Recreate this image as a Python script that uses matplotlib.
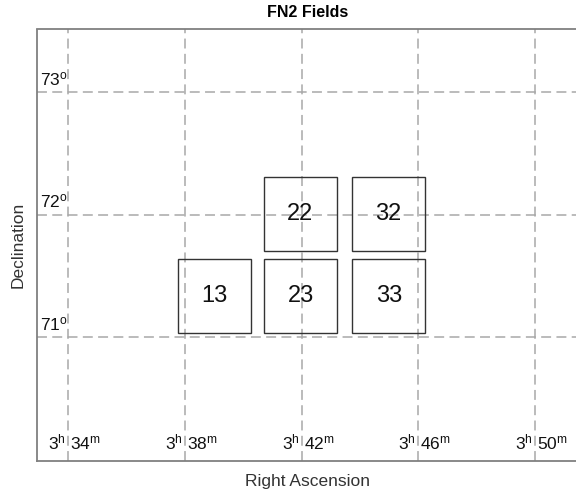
import matplotlib.pyplot as plt
from matplotlib.patches import Rectangle

plt.rcParams['font.family'] = ['Liberation Sans', 'DejaVu Sans']
plt.rcParams['mathtext.fontset'] = 'custom'
plt.rcParams['mathtext.rm'] = 'Liberation Sans'
plt.rcParams['mathtext.it'] = 'Liberation Sans'

# RA in minutes past 3h, Dec in degrees
ra_ticks = [34, 38, 42, 46, 50]
dec_ticks = [71, 72, 73]
field_names = ['13', '22', '32', '23', '33']
field_ra = [39.02, 41.96, 44.97, 41.98, 44.99]
field_dec = [71.335, 72.008, 72.008, 71.335, 71.335]
field_w = 2.5    # minutes of RA
field_h = 0.604  # degrees

fig = plt.figure(figsize=(5.76, 4.94), dpi=100)
ax = fig.add_axes([37/576, 33/494, 541/576, 431.5/494])
ax.set_xlim(32.94, 51.47)
ax.set_ylim(69.99, 73.51)

grid_kw = dict(color='#a8a8a8', lw=1.1, linestyle=(0, (6.5, 3.5)), zorder=1)
for r in ra_ticks:
    ax.axvline(r, **grid_kw)
for d in dec_ticks:
    ax.axhline(d, **grid_kw)

for name, r, d in zip(field_names, field_ra, field_dec):
    ax.add_patch(Rectangle((r - field_w/2, d - field_h/2), field_w, field_h,
                           fill=False, ec='#333333', lw=1.0, zorder=3))
    ax.text(r, d, name, ha='center', va='center', fontsize=17, color='#111111', zorder=4)

# RA labels inside the bottom of the frame
for r in ra_ticks:
    ax.annotate('3$^\\mathrm{h}$', (r, 69.99), xytext=(-1.5, 6.5), textcoords='offset points',
                ha='right', va='bottom', fontsize=12.5, color='#111111')
    ax.annotate('%d$^\\mathrm{m}$' % r, (r, 69.99), xytext=(1.5, 6.5), textcoords='offset points',
                ha='left', va='bottom', fontsize=12.5, color='#111111')

# Dec labels inside the left of the frame
for d in dec_ticks:
    ax.annotate('%d$^\\mathrm{o}$' % d, (32.94, d), xytext=(2, 3), textcoords='offset points',
                ha='left', va='bottom', fontsize=12.5, color='#111111')

ax.set_xticks([])
ax.set_yticks([])
for s in ax.spines.values():
    s.set_color('#808080')
    s.set_linewidth(1.3)

ax.set_title('FN2 Fields', fontsize=11.5, fontweight='bold', pad=9)
ax.set_xlabel('Right Ascension', fontsize=12.5, color='#333333', labelpad=9)
ax.set_ylabel('Declination', fontsize=12.5, color='#333333', labelpad=8)

fig.savefig('out.png', dpi=100)
